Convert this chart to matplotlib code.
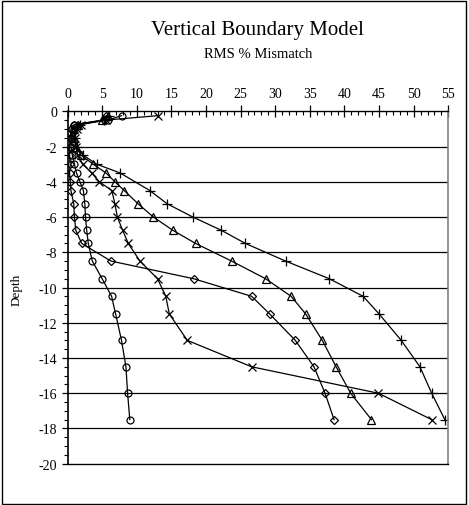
import matplotlib
matplotlib.use("Agg")
import matplotlib.pyplot as plt
from matplotlib.patches import Rectangle
from matplotlib.ticker import MultipleLocator

plt.rcParams['font.family'] = ['Liberation Serif', 'DejaVu Serif']

title = "Vertical Boundary Model"
subtitle = "RMS % Mismatch"
ylabel = "Depth"

depth = [-0.25, -0.5, -0.75, -1.0, -1.5, -2.0, -2.5, -3.0, -3.5, -4.0, -4.5,
         -5.25, -6.0, -6.75, -7.5, -8.5, -9.5, -10.5, -11.5, -13.0, -14.5, -16.0, -17.5]

circle_vals = [7.8, 5.8, 1.0, 0.7, 0.6, 0.5, 0.7, 1.0, 1.3, 1.8, 2.3,
               2.5, 2.6, 2.77, 3.0, 3.58, 5.0, 6.37, 6.95, 7.8, 8.44, 8.68, 9.0]
diamond_vals = [5.6, 5.2, 1.0, 0.5, 0.4, 0.3, 0.3, 0.4, 0.3, 0.4, 0.5,
                0.9, 1.0, 1.2, 2.05, 6.28, 18.2, 26.6, 29.2, 32.9, 35.6, 37.2, 38.5]
cross_vals = [13.0, 5.5, 2.0, 1.3, 1.1, 1.2, 1.5, 2.2, 3.5, 4.6, 6.4,
              6.85, 7.2, 7.96, 8.78, 10.46, 13.0, 14.2, 14.7, 17.3, 26.6, 44.9, 52.6]
triangle_vals = [5.8, 5.0, 1.5, 1.0, 1.0, 1.2, 2.0, 3.7, 5.56, 6.85, 8.2,
                 10.2, 12.4, 15.2, 18.5, 23.7, 28.6, 32.3, 34.4, 36.8, 38.8, 40.9, 43.9]
plus_depth = [-0.25, -0.5, -0.75, -1.0, -1.5, -2.0, -2.5, -3.0, -3.5, -4.5,
              -5.25, -6.0, -6.75, -7.5, -8.5, -9.5, -10.5, -11.5, -13.0, -14.5, -16.0, -17.5]
plus_vals = [6.0, 5.3, 1.8, 1.2, 1.1, 1.4, 2.3, 4.2, 7.6, 11.9,
             14.4, 18.1, 22.2, 25.7, 31.5, 37.8, 42.7, 45.0, 48.2, 50.9, 52.6, 54.5]

xticks = [0, 5, 10, 15, 20, 25, 30, 35, 40, 45, 50, 55]
yticks = [0, -2, -4, -6, -8, -10, -12, -14, -16, -18, -20]

fig = plt.figure(figsize=(4.69, 5.06), dpi=100)
ax = fig.add_axes([67.5/469, 1-464.7/506, (448.3-67.5)/469, (464.7-112.3)/506])

kw = dict(color='black', lw=0.9, mfc='none', mec='black', mew=0.9)
ax.plot(circle_vals, depth, marker='o', ms=5, **kw)
ax.plot(diamond_vals, depth, marker='D', ms=4.2, **kw)
ax.plot(cross_vals, depth, marker='x', ms=6, **kw)
ax.plot(triangle_vals, depth, marker='^', ms=5.5, **kw)
ax.plot(plus_vals, plus_depth, marker='+', ms=7, **kw)

ax.set_xlim(0, 55)
ax.set_ylim(-20, 0)
ax.xaxis.tick_top()
ax.set_xticks(xticks)
ax.set_xticklabels([str(t) for t in xticks])
ax.xaxis.set_minor_locator(MultipleLocator(1))
ax.set_yticks(yticks)
ax.set_yticklabels([str(t) for t in yticks])
ax.yaxis.set_minor_locator(MultipleLocator(0.5))
ax.tick_params(axis='x', which='major', direction='inout', length=8, width=0.9, labelsize=10, pad=4)
ax.tick_params(axis='x', which='minor', direction='in', length=3, width=0.8)
ax.tick_params(axis='y', which='major', direction='out', length=4, width=0.9, labelsize=10)
ax.tick_params(axis='y', which='minor', direction='out', length=3, width=0.8)

for yv in yticks[1:-1]:
    ax.axhline(yv, color='black', lw=0.9, zorder=0)

ax.spines['top'].set_linewidth(1.0)
ax.spines['left'].set_linewidth(1.2)
ax.spines['bottom'].set_linewidth(1.0)
ax.spines['right'].set_color('#808080')
ax.spines['right'].set_linewidth(1.2)

fig.text(17/469, 1-290/506, ylabel, rotation=90, ha='center', va='center', fontsize=9.5)

cx = (67.5 + 448.3) / 2 / 469
fig.text(cx, 1-30/506, title, ha='center', va='center', fontsize=15)
fig.text(cx, 1-55/506, subtitle, ha='center', va='center', fontsize=10.5)

fig.patches.append(Rectangle((2/469, 1/506), 464/469, 503/506, transform=fig.transFigure,
                             fill=False, edgecolor='black', lw=1.0))

fig.savefig('out.png', dpi=100)
